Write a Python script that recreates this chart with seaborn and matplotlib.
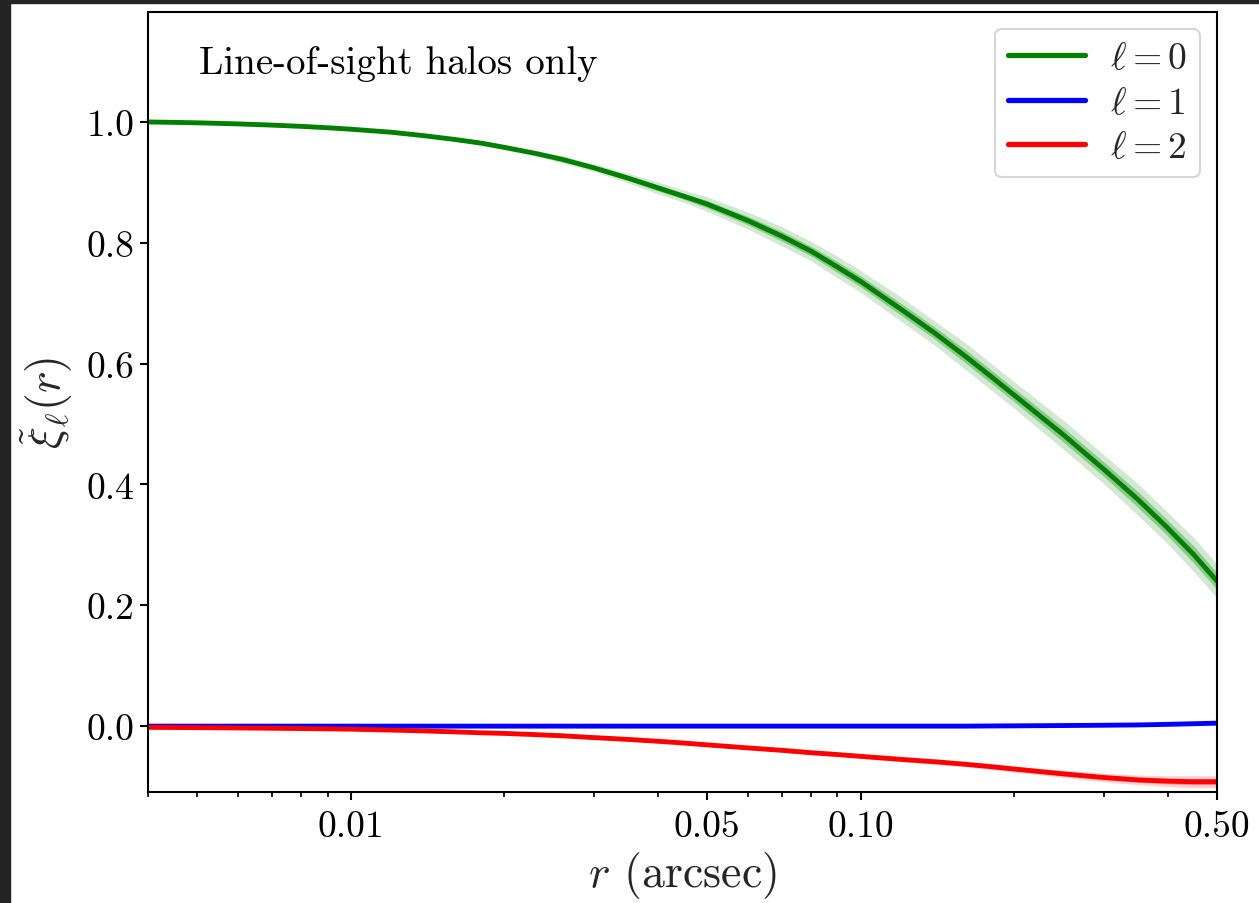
import numpy as np
import pandas as pd
import matplotlib
matplotlib.use("Agg")
import matplotlib.pyplot as plt
import seaborn as sns
from matplotlib.patches import Rectangle

# ---- data ----
r_vals = [0.004, 0.005, 0.006, 0.007, 0.008, 0.009, 0.010, 0.012, 0.014, 0.016,
          0.018, 0.020, 0.023, 0.026, 0.030, 0.035, 0.040, 0.045, 0.050, 0.060,
          0.070, 0.080, 0.090, 0.100, 0.120, 0.140, 0.160, 0.180, 0.200, 0.250,
          0.300, 0.350, 0.400, 0.450, 0.500]
xi0 = [1.000, 0.9986, 0.9968, 0.9948, 0.9927, 0.9904, 0.988, 0.983, 0.977, 0.971,
       0.965, 0.958, 0.948, 0.938, 0.924, 0.907, 0.891, 0.877, 0.864, 0.837,
       0.811, 0.786, 0.760, 0.736, 0.690, 0.650, 0.613, 0.579, 0.548, 0.482,
       0.425, 0.375, 0.328, 0.284, 0.240]
xi0_err = [0, 0, 0, 0, 0, 0, 0.001, 0.001, 0.001, 0.001,
           0.002, 0.002, 0.002, 0.003, 0.003, 0.004, 0.005, 0.005, 0.006, 0.007,
           0.008, 0.008, 0.009, 0.009, 0.010, 0.010, 0.011, 0.011, 0.011, 0.012,
           0.012, 0.013, 0.013, 0.014, 0.014]
xi1 = [0] * 27 + [0.0003, 0.0005, 0.001, 0.0015, 0.002, 0.003, 0.004, 0.005]
xi1_err = [0] * 27 + [0.0003, 0.0005, 0.0007, 0.001, 0.001, 0.0012, 0.0015, 0.0015]
xi2 = [-0.002, -0.0025, -0.003, -0.0035, -0.004, -0.0045, -0.005, -0.0065, -0.008, -0.0095,
       -0.011, -0.012, -0.014, -0.016, -0.019, -0.022, -0.025, -0.028, -0.031, -0.036,
       -0.040, -0.044, -0.047, -0.050, -0.055, -0.059, -0.063, -0.067, -0.071, -0.079,
       -0.085, -0.089, -0.091, -0.092, -0.092]
xi2_err = ([0] * 12 + [0.0005] * 4 + [0.001] * 4 + [0.0015] * 4 + [0.002] * 3
           + [0.0025] * 2 + [0.003, 0.0035, 0.004, 0.0045, 0.005, 0.005])

series_labels = [r"$\ell=0$", r"$\ell=1$", r"$\ell=2$"]
series_colors = ["green", "blue", "red"]
xtick_vals = [0.01, 0.05, 0.10, 0.50]
xtick_labels = ["0.01", "0.05", "0.10", "0.50"]
ytick_vals = [0.0, 0.2, 0.4, 0.6, 0.8, 1.0]
annotation = "Line-of-sight halos only"

# ---- style ----
sns.set_theme(style="ticks")
plt.rcParams.update({
    "font.family": ["cmr10", "DejaVu Serif"],
    "mathtext.fontset": "cm",
    "axes.formatter.use_mathtext": True,
    "axes.unicode_minus": False,
    "axes.linewidth": 1.5,
    "axes.edgecolor": "black",
    "xtick.major.width": 1.5,
    "ytick.major.width": 1.5,
    "xtick.minor.width": 1.2,
    "xtick.major.size": 6,
    "ytick.major.size": 6,
    "xtick.minor.size": 3.5,
    "xtick.color": "black",
    "ytick.color": "black",
})

fig = plt.figure(figsize=(12.59, 9.04), dpi=100)
ax = fig.add_axes([148 / 1259, 1 - 793 / 904, (1217 - 148) / 1259, (793 - 13) / 904])

df = pd.DataFrame({"r": r_vals, "xi0": xi0, "xi1": xi1, "xi2": xi2,
                   "e0": xi0_err, "e1": xi1_err, "e2": xi2_err})

for col, ecol, lab, c in zip(["xi0", "xi1", "xi2"], ["e0", "e1", "e2"],
                             series_labels, series_colors):
    y = df[col].to_numpy()
    e = df[ecol].to_numpy()
    ax.fill_between(df["r"], y - 2 * e, y + 2 * e, color=c, alpha=0.18, lw=0)
    ax.fill_between(df["r"], y - e, y + e, color=c, alpha=0.3, lw=0)
    sns.lineplot(data=df, x="r", y=col, color=c, lw=3.5, label=lab, ax=ax)

ax.set_xscale("log")
ax.set_xlim(0.004, 0.5)
ax.set_ylim(-0.109, 1.182)
ax.set_xticks(xtick_vals)
ax.set_xticklabels(xtick_labels)
ax.set_yticks(ytick_vals)
ax.set_yticklabels([f"{v:.1f}" for v in ytick_vals])
ax.tick_params(axis="both", labelsize=27)
ax.tick_params(axis="y", pad=4)
ax.tick_params(axis="x", pad=7)

ax.set_xlabel(r"$r$ (arcsec)", fontsize=33, labelpad=4)
ax.set_ylabel(r"$\tilde{\xi}_\ell(r)$", fontsize=33, labelpad=8)

ax.text(0.048, 0.935, annotation, transform=ax.transAxes, fontsize=28,
        ha="left", va="center", color="black")

leg = ax.legend(loc="upper right", fontsize=27, frameon=True, fancybox=True,
                handlelength=2.05, borderaxespad=0.45, labelspacing=0.3,
                handletextpad=0.67, borderpad=0.35)
leg.get_frame().set_edgecolor("#cccccc")
leg.get_frame().set_linewidth(1.5)
for h in leg.get_lines():
    h.set_linewidth(3.8)

# dark screenshot border
fig.patches.append(Rectangle((0, 0), 10 / 1259, 1, transform=fig.transFigure,
                             color="#242424", zorder=-1))
fig.patches.append(Rectangle((0, 1 - 4 / 904), 1, 4 / 904, transform=fig.transFigure,
                             color="#242424", zorder=-1))

fig.savefig("out.png", dpi=100)
